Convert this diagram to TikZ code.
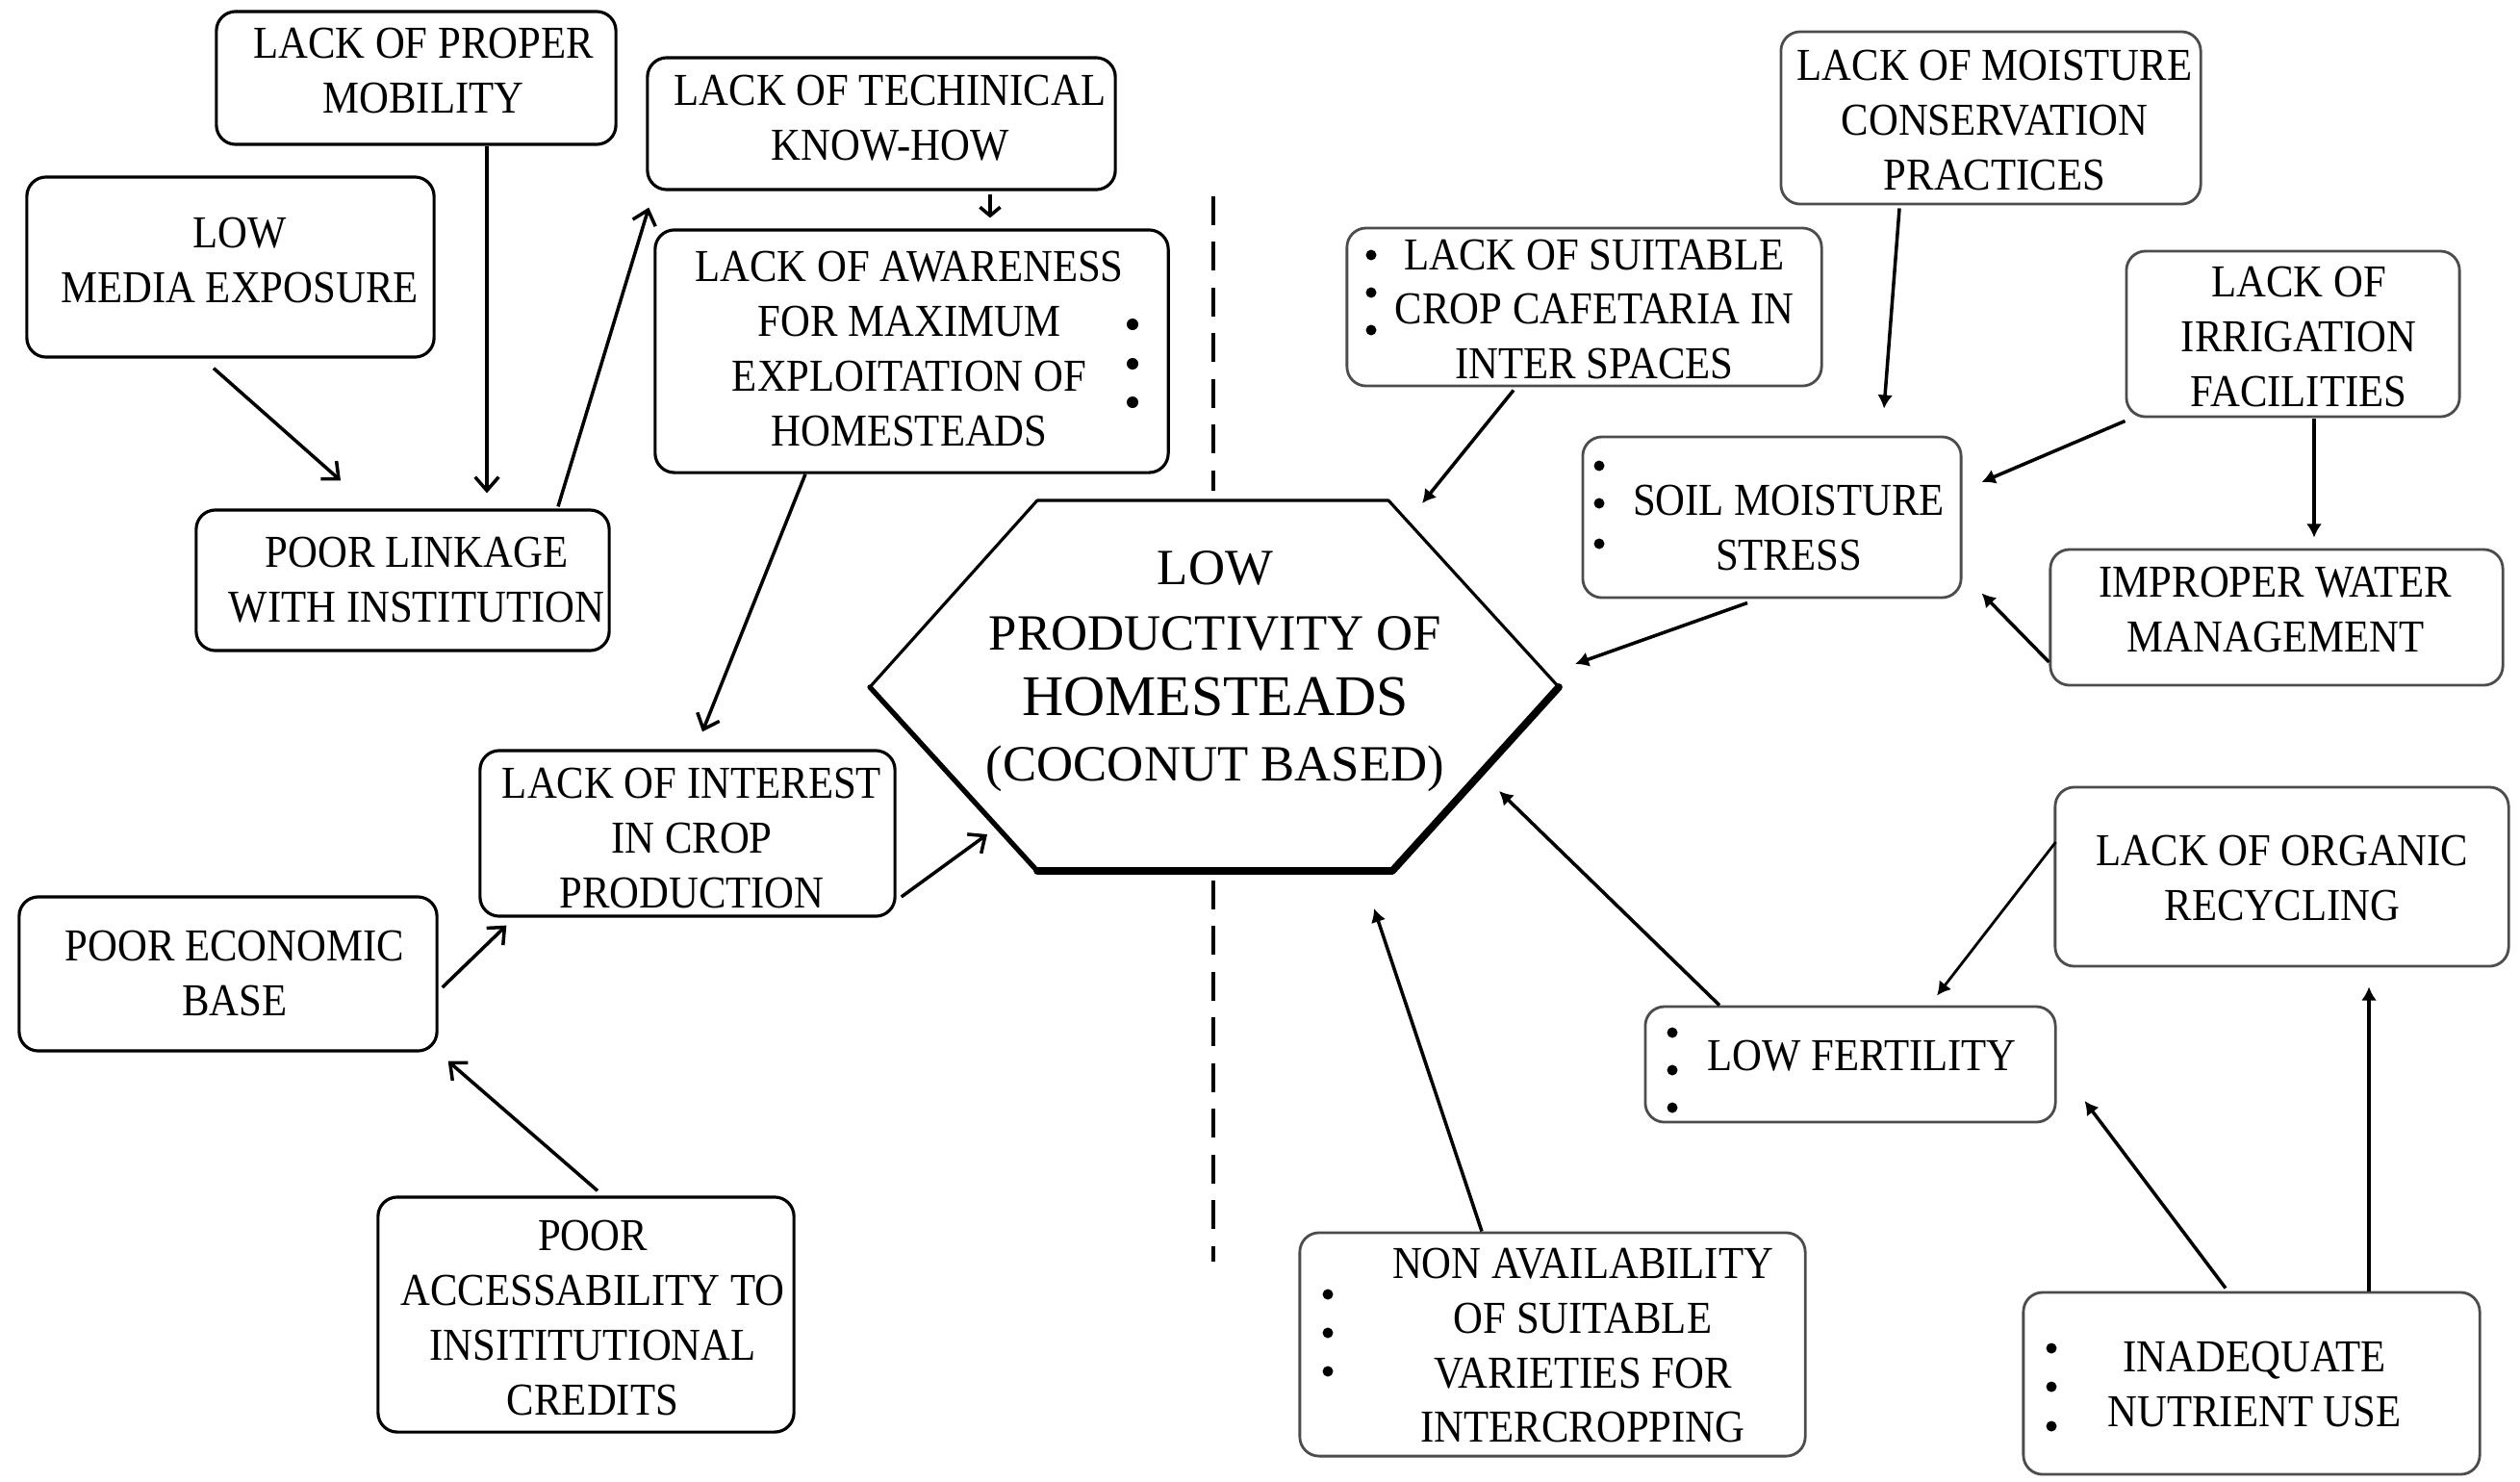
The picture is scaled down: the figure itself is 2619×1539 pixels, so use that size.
\documentclass[tikz,border=0pt]{standalone}
\usepackage{fontspec}
\setmainfont{Liberation Serif}[FakeStretch=0.9]
\newfontfamily\hexfont{Liberation Serif}
\usetikzlibrary{arrows.meta}
\begin{document}
\begin{tikzpicture}[x=0.01cm,y=-0.01cm,
  box/.style={draw=black, line width=0.9pt, rounded corners=0.2cm, inner sep=0pt},
  rbox/.style={box, draw=black!70, line width=0.8pt},
  txt/.style={inner sep=0pt, align=center, font=\fontsize{13.5}{16.2}\selectfont},
  conn/.style={line width=1pt, -{Straight Barb[length=4pt,width=7pt]}},
  rconn/.style={line width=1pt, -{Latex[length=4pt,width=4.5pt]}},
  bul/.style={fill=black},
  hexedge/.style={line width=0.9pt, line cap=round, line join=round},
  divider/.style={line width=0.9pt, dash pattern=on 8.5pt off 5pt}
]
\useasboundingbox (0,0) rectangle (2619,1539);

% ---------- left side boxes ----------
\node[box, minimum width=4.15cm, minimum height=1.38cm] (mob) at (432.5,81) {};
\node[txt] (mobT) at (440,73.5) {LACK OF PROPER\\MOBILITY};

\node[box, minimum width=4.23cm, minimum height=1.87cm] (media) at (239.5,277.5) {};
\node[txt] (mediaT) at (249,270.5) {LOW\\MEDIA EXPOSURE};

\node[box, minimum width=4.29cm, minimum height=1.46cm] (link) at (418.5,603) {};
\node[txt] (linkT) at (433,603) {POOR LINKAGE\\WITH INSTITUTION};

\node[box, minimum width=4.86cm, minimum height=1.37cm] (tech) at (916,128.5) {};
\node[txt] (techT) at (925,122.5) {LACK OF TECHINICAL\\KNOW-HOW};

\node[box, minimum width=5.33cm, minimum height=2.52cm] (aware) at (947.5,365) {};
\node[txt] (awareT) at (945,362.5) {LACK OF AWARENESS\\FOR MAXIMUM\\EXPLOITATION OF\\HOMESTEADS};

\node[box, minimum width=4.31cm, minimum height=1.72cm] (inter) at (714.5,866) {};
\node[txt] (interT) at (719,871) {LACK OF INTEREST\\IN CROP\\PRODUCTION};

\node[box, minimum width=4.34cm, minimum height=1.60cm] (econ) at (237,1012) {};
\node[txt] (econT) at (244,1011.5) {POOR ECONOMIC\\BASE};

\node[box, minimum width=4.32cm, minimum height=2.44cm] (access) at (609,1366) {};
\node[txt] (accessT) at (616,1369.5) {POOR\\ACCESSABILITY TO\\INSITITUTIONAL\\CREDITS};

% ---------- right side boxes ----------
\node[rbox, minimum width=4.36cm, minimum height=1.79cm] (moist) at (2069,122.5) {};
\node[txt] (moistT) at (2073,125) {LACK OF MOISTURE\\CONSERVATION\\PRACTICES};

\node[rbox, minimum width=4.93cm, minimum height=1.64cm] (crop) at (1646.5,319) {};
\node[txt] (cropT) at (1657,321.5) {LACK OF SUITABLE\\CROP CAFETARIA IN\\INTER SPACES};

\node[rbox, minimum width=3.93cm, minimum height=1.67cm] (soil) at (1841.5,537.5) {};
\node[txt] (soilT) at (1859,548.5) {SOIL MOISTURE\\STRESS};

\node[rbox, minimum width=3.46cm, minimum height=1.72cm] (irr) at (2383,347) {};
\node[txt] (irrT) at (2389,350) {LACK OF\\IRRIGATION\\FACILITIES};

\node[rbox, minimum width=4.70cm, minimum height=1.41cm] (water) at (2366,641.5) {};
\node[txt] (waterT) at (2365,633.5) {IMPROPER WATER\\MANAGEMENT};

\node[rbox, minimum width=4.71cm, minimum height=1.86cm] (org) at (2371.5,911) {};
\node[txt] (orgT) at (2372,912.5) {LACK OF ORGANIC\\RECYCLING};

\node[rbox, minimum width=4.26cm, minimum height=1.20cm] (fert) at (1923,1106) {};
\node[txt] (fertT) at (1935,1097) {LOW FERTILITY};

\node[rbox, minimum width=5.25cm, minimum height=2.32cm] (nonav) at (1613.5,1397) {};
\node[txt] (nonavT) at (1645,1398) {NON AVAILABILITY\\OF SUITABLE\\VARIETIES FOR\\INTERCROPPING};

\node[rbox, minimum width=4.74cm, minimum height=1.89cm] (nutr) at (2340,1437.5) {};
\node[txt] (nutrT) at (2343,1438.5) {INADEQUATE\\NUTRIENT USE};

% ---------- bullets ----------
\foreach \y in {337,378,418} \fill[bul] (1177,\y) circle (6);
\foreach \y in {265,304,343} \fill[bul] (1425,\y) circle (5.5);
\foreach \y in {484,523,565} \fill[bul] (1662,\y) circle (5.5);
\foreach \y in {1073,1112,1151} \fill[bul] (1738,\y) circle (5.5);
\foreach \y in {1345,1385,1425} \fill[bul] (1380,\y) circle (5.5);
\foreach \y in {1401,1441,1482} \fill[bul] (2132,\y) circle (5.5);

% ---------- central hexagon ----------
\draw[hexedge] (904,714) -- (1078,520) -- (1443,520) -- (1620,714);
\draw[hexedge, line width=2.2pt] (1620,714) -- (1447,905) -- (1078,905);
\draw[hexedge, line width=1.5pt] (1078,905) -- (904,714);
\node[inner sep=0pt, align=center, font=\hexfont\fontsize{15}{19.3}\selectfont] (hex) at (1263,697.5)
  {LOW\\PRODUCTIVITY OF\\{\fontsize{17}{19.3}\selectfont HOMESTEADS}\\(COCONUT BASED)};

\coordinate (hexA) at (1026,867);
\coordinate (hexB) at (1478,523);
\coordinate (hexC) at (1637,690);
\coordinate (hexD) at (1558,822);
\coordinate (hexE) at (1428,944);

% ---------- dashed divider ----------
\draw[divider] (1261,204) -- (1261,510);
\draw[divider] (1261,915) -- (1261,1311);

% ---------- connectors, left ----------
\draw[conn] ([shift={(-17.5,10)}]media.south) -- ([shift={(-64.5,-29)}]link.north);
\draw[conn] ([shift={(73.5,0)}]mob.south) -- ([shift={(87.5,-16)}]link.north);
\draw[conn] ([shift={(161.5,-2)}]link.north) -- ([shift={(3,17)}]tech.south west);
\draw[line width=1pt, -{Straight Barb[length=2.5pt,width=6pt]}] ([shift={(113,3)}]tech.south) -- ([shift={(81.5,-11)}]aware.north);
\draw[conn] ([shift={(-110.5,0)}]aware.south) -- ([shift={(15.5,-18)}]inter.north);
\draw[conn] ([shift={(5,66)}]inter.east) -- (hexA);
\draw[conn] ([shift={(4,14)}]econ.east) -- ([shift={(29,8)}]inter.south west);
\draw[conn] ([shift={(12,-5)}]access.north) -- ([shift={(10,9)}]econ.south east);

% ---------- connectors, right ----------
\draw[rconn] ([shift={(-73.5,3)}]crop.south) -- (hexB);
\draw[rconn] ([shift={(-95,3)}]moist.south) -- ([shift={(116.5,-28)}]soil.north);
\draw[rconn] ([shift={(0,3)}]irr.south west) -- ([shift={(20,-36.5)}]soil.east);
\draw[rconn] ([shift={(22,1)}]irr.south) -- ([shift={(39,-11)}]water.north);
\draw[rconn] ([shift={(0,46.5)}]water.west) -- ([shift={(20,-6)}]soil.south east);
\draw[rconn] ([shift={(-25.5,4)}]soil.south) -- (hexC);
\draw[rconn] ([shift={(-136,0)}]fert.north) -- (hexD);
\draw[rconn, line width=0.8pt] ([shift={(2,-36)}]org.west) -- ([shift={(90,-10)}]fert.north);
\draw[rconn] ([shift={(-27,-3)}]nutr.north) -- ([shift={(29,38)}]fert.east);
\draw[rconn] ([shift={(122,0)}]nutr.north) -- ([shift={(90.5,20)}]org.south);
\draw[rconn] ([shift={(-73.5,0)}]nonav.north) -- (hexE);
\end{tikzpicture}
\end{document}
